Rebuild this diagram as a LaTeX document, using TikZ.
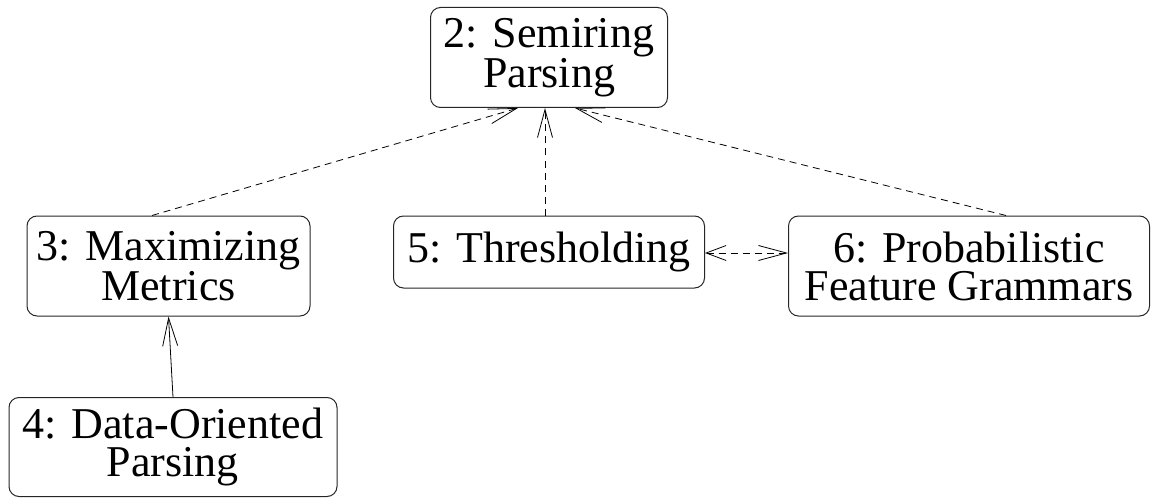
\documentclass[tikz,border=0pt]{standalone}
\usepackage{fontspec}
\newfontfamily\tmsfont{LiberationSerif-Regular.ttf}
\usetikzlibrary{arrows.meta}
\tikzset{
  box/.style={draw=black!85, line width=1pt, rounded corners=10pt, align=center, inner sep=0pt,
    font=\tmsfont\fontsize{44pt}{38pt}\selectfont},
  dep/.style={line width=0.8pt, dash pattern=on 7pt off 5pt},
  plain/.style={line width=0.8pt},
  barb/.style={-{Straight Barb[length=28pt,width=15pt,line width=0.8pt]}},
}
\begin{document}
\begin{tikzpicture}[x=1pt,y=-1pt]
\useasboundingbox (0,0) rectangle (1151,500);
\node[box, minimum width=237pt, minimum height=100pt] (n2) at (549,57.5) {2: Semiring\\Parsing};
\node[box, minimum width=283pt, minimum height=100pt] (n3) at (168.5,266) {3: Maximizing\\Metrics};
\node[box, minimum width=311pt, minimum height=72pt] (n5) at (549,252) {5: Thresholding};
\node[box, minimum width=361pt, minimum height=100pt] (n6) at (969,266) {6: Probabilistic\\Feature Grammars};
\node[box, minimum width=328pt, minimum height=99pt] (n4) at (173,447) {4: Data-Oriented\\Parsing};

\draw[dep, barb] ([xshift=-16.5pt]n3.north) -- ([xshift=-31pt]n2.south);
\draw[dep, barb] ([xshift=-4pt]n5.north) -- ([xshift=-4pt]n2.south);
\draw[dep, barb] ([xshift=37pt]n6.north) -- ([xshift=26pt]n2.south);
\draw[plain, barb] (n4.north) -- (n3.south);
\draw[dep, {Straight Barb[length=20pt,width=15pt,line width=0.8pt]}-{Straight Barb[length=28pt,width=15pt,line width=0.8pt]}]
  ([yshift=-1pt]n5.east) -- ([yshift=13pt]n6.west);
\end{tikzpicture}
\end{document}
